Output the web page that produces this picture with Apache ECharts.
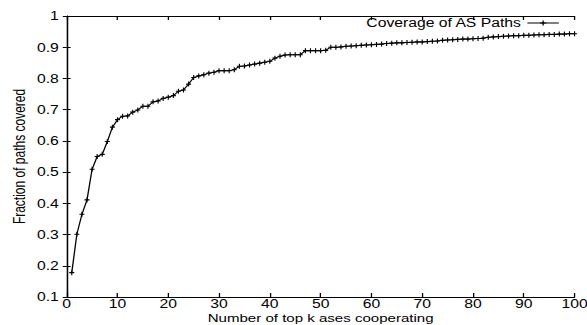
<!DOCTYPE html>
<html>
<head>
<meta charset="utf-8">
<script src="https://cdn.jsdelivr.net/npm/echarts@6/dist/echarts.min.js"></script>
<style>
  html, body { margin: 0; padding: 0; background: #fff; overflow: hidden; }
  #wrap { width: 587px; height: 325px; overflow: hidden; }
  #c { width: 448px; height: 325px; transform: scaleX(1.3103); transform-origin: 0 0; }
</style>
</head>
<body>
<div id="wrap"><div id="c"></div></div>
<script>
// ---- data ----
const seriesName = "Coverage of AS Paths";
const xTitle = "Number of top k ases cooperating";
const yTitle = "Fraction of paths covered";
const xTickLabels = ["0","10","20","30","40","50","60","70","80","90","100"];
const yTickLabels = ["0.1","0.2","0.3","0.4","0.5","0.6","0.7","0.8","0.9","1"];
const kValues = [
  1,2,3,4,5,6,7,8,9,10,
  11,12,13,14,15,16,17,18,19,20,
  21,22,23,24,25,26,27,28,29,30,
  31,32,33,34,35,36,37,38,39,40,
  41,42,43,44,45,46,47,48,49,50,
  51,52,53,54,55,56,57,58,59,60,
  61,62,63,64,65,66,67,68,69,70,
  71,72,73,74,75,76,77,78,79,80,
  81,82,83,84,85,86,87,88,89,90,
  91,92,93,94,95,96,97,98,99,100
];
const coverage = [
  0.178,0.301,0.365,0.411,0.509,0.550,0.557,0.598,0.644,0.668,
  0.679,0.680,0.692,0.699,0.711,0.711,0.725,0.728,0.736,0.740,
  0.745,0.759,0.763,0.782,0.803,0.808,0.812,0.817,0.820,0.825,
  0.825,0.825,0.828,0.839,0.840,0.843,0.846,0.849,0.852,0.855,
  0.865,0.871,0.875,0.876,0.876,0.876,0.889,0.889,0.889,0.889,
  0.890,0.900,0.900,0.901,0.903,0.904,0.905,0.906,0.907,0.908,
  0.909,0.910,0.912,0.913,0.914,0.914,0.915,0.916,0.917,0.917,
  0.918,0.919,0.920,0.922,0.923,0.924,0.925,0.926,0.926,0.927,
  0.928,0.929,0.932,0.933,0.934,0.935,0.936,0.937,0.937,0.938,
  0.938,0.939,0.940,0.940,0.941,0.941,0.942,0.942,0.943,0.943
];

// ---- chart ----
const FONT = "'Liberation Sans', Arial, Helvetica, sans-serif";
const plus = 'path://M0,5L10,5M5,0L5,10';
const chart = echarts.init(document.getElementById('c'), null, { renderer: 'svg' });

const xLab = {};
xTickLabels.forEach(t => { xLab[Number(t)] = t; });
const yLab = {};
yTickLabels.forEach(t => { yLab[Number(t).toFixed(1)] = t; });

const axisLineStyle = { color: '#000', width: 1 };
const baseX = {
  type: 'value', min: 0, max: 100, interval: 10,
  axisLine: { show: true, lineStyle: axisLineStyle },
  axisTick: { show: true, inside: true, length: 4, lineStyle: axisLineStyle },
  splitLine: { show: false }
};
const baseY = {
  type: 'value', min: 0.1, max: 1, interval: 0.1,
  axisLine: { show: true, lineStyle: axisLineStyle },
  axisTick: { show: true, inside: true, length: 3, lineStyle: axisLineStyle },
  splitLine: { show: false }
};

chart.setOption({
  animation: false,
  backgroundColor: '#fff',
  textStyle: { fontFamily: FONT },
  grid: { left: 50.9, right: 9.5, top: 16, bottom: 28, containLabel: false, outerBoundsMode: 'none' },
  legend: {
    show: true,
    right: 21, top: 17,
    padding: 0,
    align: 'right',
    itemWidth: 24, itemHeight: 6,
    lineStyle: { width: 1, color: '#000' },
    itemStyle: { color: '#000', borderColor: '#000', borderWidth: 1 },
    textStyle: { fontFamily: FONT, fontSize: 12, color: '#000' },
    data: [seriesName]
  },
  xAxis: [
    Object.assign({}, baseX, {
      position: 'bottom',
      name: xTitle, nameLocation: 'middle', nameGap: 15,
      nameMoveOverlap: false,
      nameTextStyle: { fontFamily: FONT, fontSize: 11.5, lineHeight: 12, color: '#000' },
      axisLabel: {
        show: true, margin: 1, fontFamily: FONT, fontSize: 12, lineHeight: 12, color: '#000',
        showMinLabel: true, showMaxLabel: true,
        formatter: v => xLab[v] !== undefined ? xLab[v] : ''
      }
    }),
    Object.assign({}, baseX, { position: 'top', axisLabel: { show: false } })
  ],
  yAxis: [
    Object.assign({}, baseY, {
      position: 'left',
      name: yTitle, nameLocation: 'middle', nameGap: 30,
      nameMoveOverlap: false,
      nameTextStyle: { fontFamily: FONT, fontSize: 12, color: '#000' },
      axisLabel: {
        show: true, margin: 6, fontFamily: FONT, fontSize: 12, color: '#000',
        showMinLabel: true, showMaxLabel: true,
        formatter: v => { const k = Number(v).toFixed(1); return yLab[k] !== undefined ? yLab[k] : ''; }
      }
    }),
    Object.assign({}, baseY, { position: 'right', axisLabel: { show: false } })
  ],
  series: [{
    name: seriesName,
    type: 'line',
    xAxisIndex: 0, yAxisIndex: 0,
    data: kValues.map((k, i) => [k, coverage[i]]),
    showSymbol: true,
    showAllSymbol: true,
    symbol: plus,
    symbolSize: [3.8, 5],
    lineStyle: { color: '#000', width: 1 },
    itemStyle: { color: '#000', borderColor: '#000', borderWidth: 1 },
    emphasis: { disabled: true }
  }]
});
</script>
</body>
</html>
